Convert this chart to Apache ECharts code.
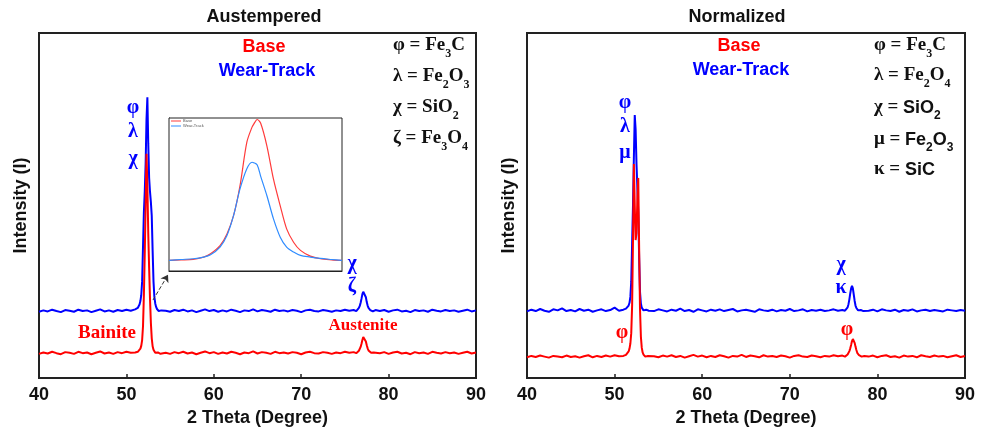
<!DOCTYPE html>
<html>
<head>
<meta charset="utf-8">
<script src="https://cdn.jsdelivr.net/npm/echarts@6/dist/echarts.min.js"></script>
<style>html,body{margin:0;padding:0;background:#fff}#c{width:987px;height:433px}</style>
</head>
<body>
<div id="c"></div>
<script>
// 2 Theta grid (degrees)
const theta = [
 40,40.5,41,41.5,42,42.5,43,43.5,44,44.5,45,45.5,46,46.5,47,47.5,48,48.5,49,49.5,50,50.5,51,
 51.1,51.2,51.3,51.4,51.5,51.6,51.7,51.8,51.9,52,52.1,52.2,52.3,52.4,52.5,52.6,52.7,52.8,52.9,53,53.1,53.2,53.3,53.4,53.5,53.6,53.7,53.8,53.9,54,
 54.5,55,55.5,56,56.5,57,57.5,58,58.5,59,59.5,60,60.5,61,61.5,62,62.5,63,63.5,64,64.5,65,65.5,66,66.5,67,67.5,68,68.5,69,69.5,70,70.5,71,71.5,72,72.5,73,73.5,74,74.5,75,75.5,76,
 76.1,76.2,76.3,76.4,76.5,76.6,76.7,76.8,76.9,77,77.1,77.2,77.3,77.4,77.5,77.6,77.7,77.8,77.9,78,78.1,78.2,78.3,78.4,78.5,
 79,79.5,80,80.5,81,81.5,82,82.5,83,83.5,84,84.5,85,85.5,86,86.5,87,87.5,88,88.5,89,89.5,90
];
// Austempered - Wear-Track (blue)
const austWear = [
 19.2,19.6,19.3,19.8,19.4,19.1,19.7,19.5,19.2,19.8,19.4,19.6,19.1,19.5,19.9,19.3,19.6,19.2,19.7,19.4,19.8,19.5,19.9,
 19.9,20.1,20.3,20.7,21.3,22.3,24,28,38,48,54,62,75,81.4,68,58,54,51,47,37,28,23.5,21.6,20.6,20.0,19.9,19.4,19.7,19.3,19.6,
 19.5,19.2,19.7,19.4,19.8,19.3,19.6,19.1,19.5,19.9,19.4,19.7,19.2,19.6,19.3,19.8,19.5,19.1,19.6,19.4,19.9,19.3,19.7,19.5,19.2,19.8,19.4,19.6,19.3,19.7,19.5,19.1,19.6,19.8,19.4,19.3,19.7,19.5,19.2,19.6,19.4,19.8,19.5,19.7,
 19.5,19.8,19.4,19.7,19.9,20.3,20.9,21.8,23.0,24.3,25.0,25.2,24.6,23.4,22.0,21.0,20.3,20.0,19.7,19.5,19.8,19.3,19.6,19.4,19.7,
 19.4,19.7,19.2,19.6,19.8,19.3,19.5,19.1,19.7,19.4,19.6,19.2,19.8,19.5,19.3,19.7,19.4,19.6,19.2,19.5,19.8,19.3,19.6
];
// Austempered - Base (red)
const austBase = [
 7.0,7.4,7.1,7.6,7.2,6.9,7.5,7.3,7.0,7.6,7.2,7.4,6.9,7.3,7.7,7.1,7.4,7.0,7.5,7.2,7.6,7.3,7.4,
 7.5,7.3,7.6,7.7,8.0,8.5,9.3,11,15,24,36,50,65,56,42,32,23,16,11.5,9.2,8.2,7.7,7.3,7.6,7.1,7.4,7.2,7.5,7.0,7.3,
 7.3,7.0,7.5,7.2,7.6,7.1,7.4,6.9,7.3,7.7,7.2,7.5,7.0,7.4,7.1,7.6,7.3,6.9,7.4,7.2,7.7,7.1,7.5,7.3,7.0,7.6,7.2,7.4,7.1,7.5,7.3,6.9,7.4,7.6,7.2,7.1,7.5,7.3,7.0,7.4,7.2,7.6,7.3,7.5,
 7.3,7.6,7.2,7.5,7.6,7.9,8.3,9.0,9.9,11.0,11.9,12.2,11.7,10.6,9.5,8.6,8.0,7.7,7.5,7.3,7.6,7.1,7.4,7.2,7.5,
 7.2,7.5,7.0,7.4,7.6,7.1,7.3,6.9,7.5,7.2,7.4,7.0,7.6,7.3,7.1,7.5,7.2,7.4,7.0,7.3,7.6,7.1,7.4
];
// Normalized - Wear-Track (blue)
const normWear = [
 19.3,19.8,19.4,20.0,19.5,19.2,19.9,19.6,20.2,19.4,19.7,19.3,20.0,19.5,19.8,19.2,19.6,19.9,19.4,19.7,20.4,19.5,19.8,
 19.9,20.0,20.1,20.3,20.6,21.0,21.8,23.5,28,39,50,64,76.2,72,62,55,48,35,25,21.6,20.4,19.9,19.6,20.0,19.5,19.8,19.4,19.9,19.5,19.7,
 19.4,19.9,19.6,19.3,19.8,19.5,20.1,19.4,19.7,19.2,19.9,19.6,19.3,19.8,19.5,19.9,19.4,19.7,20.0,19.3,19.6,19.8,19.5,19.2,19.9,19.6,19.4,19.8,19.3,19.7,19.5,20.0,19.4,19.6,19.9,19.3,19.7,19.5,19.8,19.4,19.6,19.9,19.5,19.7,
 19.6,19.9,19.5,19.8,20.0,20.5,21.4,22.8,24.5,26.0,26.7,26.0,24.2,22.4,21.0,20.3,19.9,19.6,19.9,19.4,19.7,19.5,19.9,19.4,19.7,
 19.5,19.8,19.3,19.9,19.6,19.4,19.8,19.2,19.7,19.5,19.9,19.3,19.6,19.8,19.4,19.7,19.5,19.3,19.8,19.6,19.4,19.7,19.5
];
// Normalized - Base (red)
const normBase = [
 6.0,6.4,6.1,6.5,6.2,5.9,6.4,6.2,6.0,6.5,6.1,6.3,5.9,6.3,6.6,6.0,6.4,6.1,6.5,6.2,6.6,6.3,6.4,
 6.5,6.4,6.7,6.9,7.2,7.7,8.5,10,13,21,40,62,50,40,42,52,58,38,20,12,8.8,7.4,6.8,6.5,6.2,6.5,6.1,6.4,6.0,6.3,
 6.3,6.0,6.5,6.2,6.6,6.1,6.4,5.9,6.3,6.7,6.2,6.5,6.0,6.4,6.1,6.6,6.3,5.9,6.4,6.2,6.7,6.1,6.5,6.3,6.0,6.6,6.2,6.4,6.1,6.5,6.3,5.9,6.4,6.6,6.2,6.1,6.5,6.3,6.0,6.4,6.2,6.6,6.3,6.5,
 6.3,6.6,6.2,6.5,6.6,6.8,7.2,7.8,8.6,9.6,10.7,11.3,11.0,10.2,9.1,8.1,7.3,6.9,6.6,6.4,6.6,6.2,6.5,6.2,6.4,
 6.2,6.5,6.0,6.4,6.6,6.1,6.3,5.9,6.5,6.2,6.4,6.0,6.6,6.3,6.1,6.5,6.2,6.4,6.0,6.3,6.6,6.1,6.4
];
// Inset (zoom on the main peak, relative units)
const insetX    = [0,7,14,20,24,29.5,33.5,37.3,41,45,48,49,51,53,56.6,60.4,64.3,68,72,76,81.7,87.5,94,100];
const insetBase = [7,7.3,7.7,9.2,11.4,16.8,24.5,36.5,56,85,95,97,100,97.5,82.5,60.6,43,27.8,19,13.6,9.8,8.1,7.4,7];
const insetWear = [7,7.6,8.1,9.2,10.7,15.8,23.4,36.5,54,67.5,71.8,71.5,70,62.5,49.7,34.4,22.3,15.8,12.5,10.3,9.2,8.3,7.6,7];
const xTicks = [40,50,60,70,80,90];

const chart = echarts.init(document.getElementById('c'), null, {renderer:'canvas'});
const SANS = 'Liberation Sans, Arial, sans-serif';
const SERIF = 'Liberation Serif, Times New Roman, serif';
const BLUE = '#0000ff', RED = '#ff0000';

function pairs(ys){ return theta.map((t,i)=>[t, ys[i]]); }
function ipairs(ys){ return insetX.map((t,i)=>[t, ys[i]]); }

function mainX(gi){
  return {type:'value', gridIndex:gi, min:xTicks[0], max:xTicks[xTicks.length-1], interval:10,
    name:'2 Theta (Degree)', nameLocation:'middle', nameGap:28,
    nameTextStyle:{fontFamily:SANS, fontWeight:'bold', fontSize:18, color:'#111'},
    axisLine:{show:true, lineStyle:{color:'#222', width:2}},
    axisTick:{show:true, inside:true, length:4, lineStyle:{color:'#222', width:1.5}},
    axisLabel:{fontFamily:SANS, fontWeight:'bold', fontSize:18, color:'#111', margin:8},
    splitLine:{show:false}};
}
function mainY(gi){
  return {type:'value', gridIndex:gi, min:0, max:100,
    name:'Intensity (I)', nameLocation:'middle', nameGap:9, nameRotate:90,
    nameTextStyle:{fontFamily:SANS, fontWeight:'bold', fontSize:18, color:'#111'},
    axisLine:{show:true, lineStyle:{color:'#222', width:2}},
    axisTick:{show:false}, axisLabel:{show:false}, splitLine:{show:false}};
}

function txt(x, y, text, color, font, size, align){
  return {type:'text', x:x, y:y, z:50, silent:true,
    style:{text:text, fill:color, fontFamily:font, fontWeight:'bold', fontSize:size,
      align:align||'center', verticalAlign:'middle', textAlign:align||'center', textVerticalAlign:'middle'}};
}
const richStyles = {
  m:{fontFamily:SERIF, fontWeight:'bold', fontSize:19, fill:'#111', color:'#111', verticalAlign:'bottom', padding:[0,0,5,0]},
  s:{fontFamily:SERIF, fontWeight:'bold', fontSize:12, fill:'#111', color:'#111', verticalAlign:'bottom'},
  n:{fontFamily:SANS, fontWeight:'bold', fontSize:18, fill:'#111', color:'#111', verticalAlign:'bottom', padding:[0,0,5,0]},
  t:{fontFamily:SANS, fontWeight:'bold', fontSize:12, fill:'#111', color:'#111', verticalAlign:'bottom'}
};
function chem(x, y, text){
  return {type:'text', x:x, y:y, z:50, silent:true,
    style:{text:text, rich:richStyles, align:'left', verticalAlign:'middle', textAlign:'left', textVerticalAlign:'middle'}};
}

const graphics = [
  txt(264,17,'Austempered','#111',SANS,18),
  txt(737,17,'Normalized','#111',SANS,18),
  txt(264,47,'Base',RED,SANS,18),
  txt(267,71,'Wear-Track',BLUE,SANS,18),
  txt(739,46,'Base',RED,SANS,18),
  txt(741,70,'Wear-Track',BLUE,SANS,18),
  chem(393,48,'{m|φ = Fe}{s|3}{m|C}'),
  chem(393,79,'{m|λ = Fe}{s|2}{m|O}{s|3}'),
  chem(393,110,'{m|χ = SiO}{s|2}'),
  chem(393,141,'{m|ζ = Fe}{s|3}{m|O}{s|4}'),
  chem(874,48,'{m|φ = Fe}{s|3}{m|C}'),
  chem(874,78,'{m|λ = Fe}{s|2}{m|O}{s|4}'),
  chem(874,110,'{m|χ = }{n|SiO}{t|2}'),
  chem(874,142,'{m|μ = }{n|Fe}{t|2}{n|O}{t|3}'),
  chem(874,172,'{m|κ = }{n|SiC}'),
  txt(133,108,'φ',BLUE,SERIF,20),
  txt(133,132,'λ',BLUE,SERIF,20),
  txt(133,159,'χ',BLUE,SERIF,20),
  txt(352,264,'χ',BLUE,SERIF,20),
  txt(352,287,'ζ',BLUE,SERIF,20),
  txt(625,103,'φ',BLUE,SERIF,20),
  txt(625,127,'λ',BLUE,SERIF,20),
  txt(625,153,'μ',BLUE,SERIF,20),
  txt(841,265,'χ',BLUE,SERIF,20),
  txt(841,288,'κ',BLUE,SERIF,20),
  txt(107,333,'Bainite',RED,SERIF,19),
  txt(363,326,'Austenite',RED,SERIF,17),
  txt(622,333,'φ',RED,SERIF,20),
  txt(847,330,'φ',RED,SERIF,20)
];

const option = {
  animation:false,
  backgroundColor:'#fff',
  grid:[
    {left:39, top:33, width:437, height:345, show:true, borderColor:'#222', borderWidth:2},
    {left:527, top:33, width:438, height:345, show:true, borderColor:'#222', borderWidth:2},
    {left:169, top:118, width:173, height:153, show:true, borderColor:'#222', borderWidth:1, backgroundColor:'#fff', z:5}
  ],
  legend:{data:['Base','Wear-Track'], left:171, top:119, orient:'vertical', itemWidth:10, itemHeight:1, itemGap:1,
    icon:'rect', padding:0, z:20, textStyle:{fontSize:4, color:'#555', padding:[0,0,0,-3]}},
  xAxis:[mainX(0), mainX(1),
    {type:'value', gridIndex:2, min:0, max:100, axisLabel:{show:false}, splitLine:{show:false},
     axisLine:{show:true, lineStyle:{color:'#222', width:1}},
     axisTick:{show:true, inside:true, length:3, customValues:[9.3,33.4,57.5,81.7], lineStyle:{color:'#444'}}}],
  yAxis:[mainY(0), mainY(1),
    {type:'value', gridIndex:2, min:0, max:101, axisLabel:{show:false}, splitLine:{show:false},
     axisLine:{show:true, lineStyle:{color:'#222', width:1}},
     axisTick:{show:true, inside:true, length:3, customValues:[27.3,54.6,82], lineStyle:{color:'#444'}}}],
  series:[
    {name:'Austempered Wear-Track', type:'line', xAxisIndex:0, yAxisIndex:0, data:pairs(austWear), showSymbol:false,
     lineStyle:{color:BLUE, width:2}, itemStyle:{color:BLUE}, z:2,
     markLine:{silent:true, symbol:['none','arrow'], symbolSize:7, label:{show:false},
       lineStyle:{type:'dashed', color:'#333', width:1},
       data:[[{coord:[53.04,22.6]},{coord:[54.76,29.9]}]]}},
    {name:'Austempered Base', type:'line', xAxisIndex:0, yAxisIndex:0, data:pairs(austBase), showSymbol:false,
     lineStyle:{color:RED, width:2}, itemStyle:{color:RED}, z:3},
    {name:'Normalized Wear-Track', type:'line', xAxisIndex:1, yAxisIndex:1, data:pairs(normWear), showSymbol:false,
     lineStyle:{color:BLUE, width:2}, itemStyle:{color:BLUE}, z:2},
    {name:'Normalized Base', type:'line', xAxisIndex:1, yAxisIndex:1, data:pairs(normBase), showSymbol:false,
     lineStyle:{color:RED, width:2}, itemStyle:{color:RED}, z:3},
    {name:'Base', type:'line', xAxisIndex:2, yAxisIndex:2, data:ipairs(insetBase), showSymbol:false, smooth:0.3,
     lineStyle:{color:'#ff3b3b', width:1.2}, itemStyle:{color:'#ff3b3b'}, z:10},
    {name:'Wear-Track', type:'line', xAxisIndex:2, yAxisIndex:2, data:ipairs(insetWear), showSymbol:false, smooth:0.3,
     lineStyle:{color:'#2f8cff', width:1.2}, itemStyle:{color:'#2f8cff'}, z:10}
  ],
  graphic:graphics
};
chart.setOption(option);
</script>
</body>
</html>
